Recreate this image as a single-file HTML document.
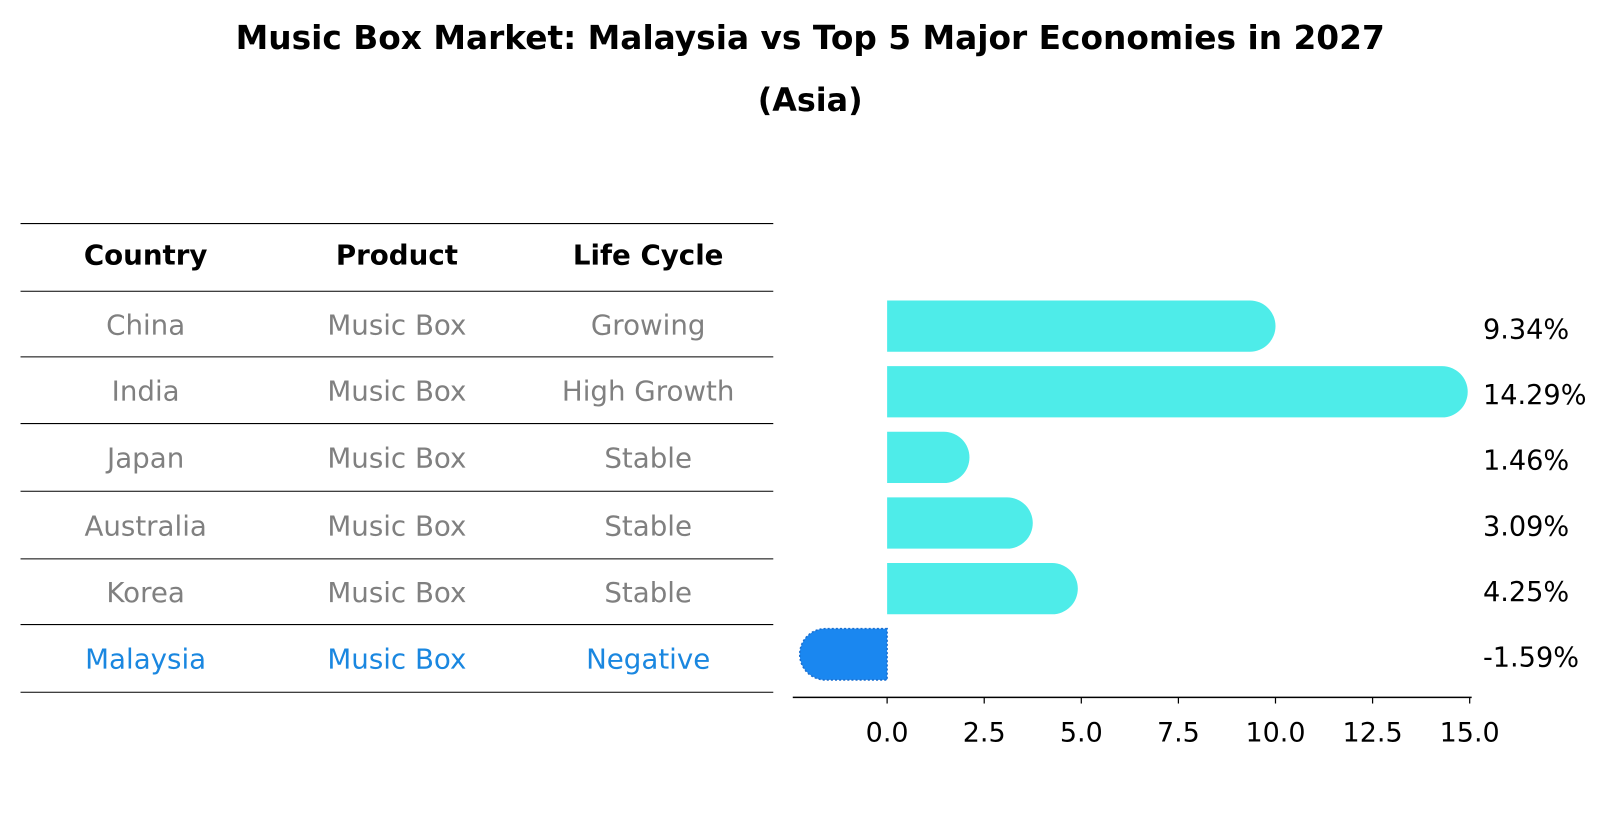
<!DOCTYPE html>
<html><head><meta charset="utf-8"><style>
body{margin:0;background:#fff;font-family:"Liberation Sans","DejaVu Sans",sans-serif;}
svg text{font-family:"DejaVu Sans","Liberation Sans",sans-serif;}
</style></head><body>
<svg width="1604" height="823" viewBox="0 0 1564 802.5" style="display:block">
<text x="790" y="48" text-anchor="middle" font-size="32" font-weight="bold">Music Box Market: Malaysia vs Top 5 Major Economies in 2027</text>
<text x="790" y="108" text-anchor="middle" font-size="31" font-weight="bold">(Asia)</text>
<g id="table"></g>
<g id="bars"></g>
</svg>
<script>
const countries=["China","India","Japan","Australia","Korea","Malaysia"];
const products=["Music Box","Music Box","Music Box","Music Box","Music Box","Music Box"];
const lifeCycles=["Growing","High Growth","Stable","Stable","Stable","Negative"];
const values=[9.34,14.29,1.46,3.09,4.25,-1.59];
const valueLabels=["9.34%","14.29%","1.46%","3.09%","4.25%","-1.59%"];
const xTicks=[0,2.5,5,7.5,10,12.5,15];
const xTickLabels=["0.0","2.5","5.0","7.5","10.0","12.5","15.0"];

const NS="http://www.w3.org/2000/svg";
function mk(tag,attrs,parent,txt){const e=document.createElementNS(NS,tag);for(const k in attrs)e.setAttribute(k,attrs[k]);if(txt!==undefined)e.textContent=txt;parent.appendChild(e);return e;}
const xs=v=>865+v*37.87;
const rowY=i=>318+i*64;

// table
const tg=document.getElementById('table');
const lines=[218,284,348,413,479,545,609,675];
lines.forEach(y=>{const l=mk('line',{x1:20,x2:754,y1:y,y2:y,stroke:'#000','stroke-width':1},tg);

});
const cols=[142,387,632];
["Country","Product","Life Cycle"].forEach((h,j)=>{const t=mk('text',{x:cols[j],y:258,'text-anchor':'middle','font-size':27,'font-weight':'bold'},tg,h);

});
countries.forEach((c,i)=>{
 const col=i===countries.length-1?'#1a87e0':'#808080';
 const y=(lines[i+1]+lines[i+2])/2+10;
 [c,products[i],lifeCycles[i]].forEach((v,j)=>{const t=mk('text',{x:cols[j],y:y,'text-anchor':'middle','font-size':27,fill:col},tg,v);
 
 });
});

// bars
const bg=document.getElementById('bars');
const h=50,r=25;
values.forEach((v,i)=>{
 const y=rowY(i)-h/2, x0=xs(0), x1=xs(v);
 const neg=v<0;
 const fill=neg?'#1a87f0':'#4eece9';
 let d;
 if(!neg) d=`M${x0},${y} H${x1} A${r},${r} 0 0 1 ${x1},${y+h} H${x0} Z`;
 else d=`M${x0},${y} H${x1} A${r},${r} 0 0 0 ${x1},${y+h} H${x0} Z`;
 const p=mk('path',{d:d,fill:fill,stroke:neg?'#1a6fd0':'none','stroke-dasharray':neg?'2,2':'none','stroke-width':neg?1.5:0},bg);
 
 
 const t=mk('text',{x:1446,y:rowY(i)+12,'font-size':26.5},bg,valueLabels[i]);
 
 
});
const ax=mk('line',{x1:773,x2:1435,y1:680,y2:680,stroke:'#000','stroke-width':1.5},bg);


xTicks.forEach((v,i)=>{
 const tk=mk('line',{x1:xs(v),x2:xs(v),y1:680,y2:686,stroke:'#000','stroke-width':1.2},bg);
 
 
 const t=mk('text',{x:xs(v),y:723,'text-anchor':'middle','font-size':26.3},bg,xTickLabels[i]);
 
 
});
</script>
</body></html>
